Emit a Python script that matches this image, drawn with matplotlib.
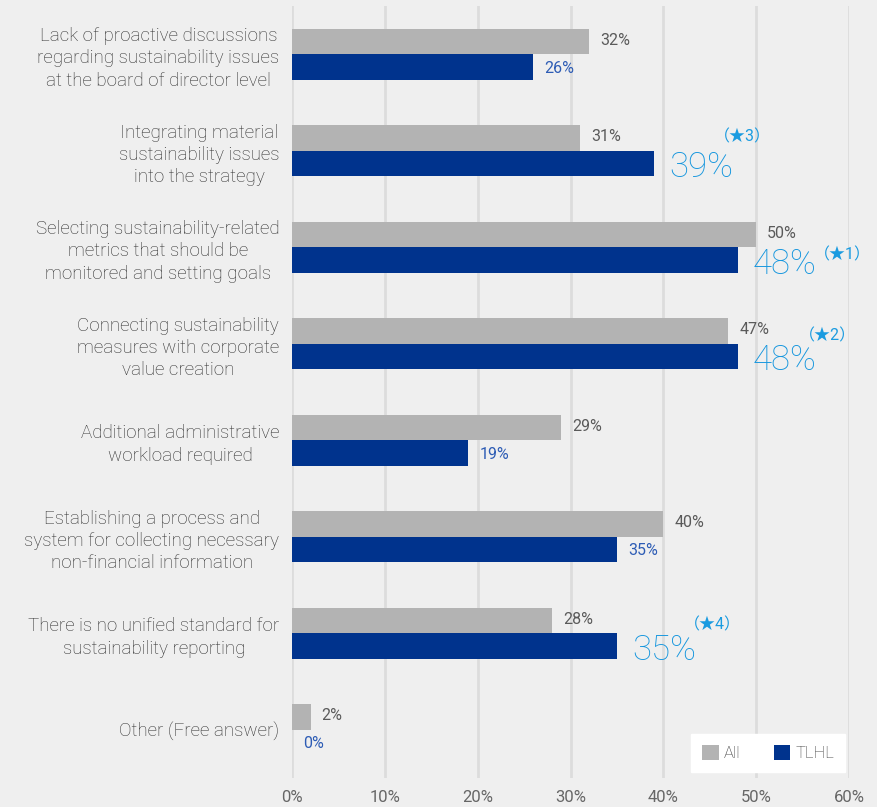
import matplotlib
matplotlib.use("Agg")
import matplotlib.pyplot as plt
import numpy as np
from matplotlib.patches import Patch

plt.rcParams['font.family'] = ['Roboto', 'Noto Sans CJK JP', 'DejaVu Sans']

categories = [
    "Lack of proactive discussions\nregarding sustainability issues\nat the board of director level",
    "Integrating material\nsustainability issues\ninto the strategy",
    "Selecting sustainability-related\nmetrics that should be\nmonitored and setting goals",
    "Connecting sustainability\nmeasures with corporate\nvalue creation",
    "Additional administrative\nworkload required",
    "Establishing a process and\nsystem for collecting necessary\nnon-financial information",
    "There is no unified standard for\nsustainability reporting",
    "Other (Free answer)",
]
all_values = [32, 31, 50, 47, 29, 40, 28, 2]
tlhl_values = [26, 39, 48, 48, 19, 35, 35, 0]
# highlighted TLHL results with their rank marks
highlight_rank = {1: "（★3）", 2: "（★1）", 3: "（★2）", 6: "（★4）"}
xticks = [0, 10, 20, 30, 40, 50, 60]

C_ALL = "#b3b3b3"
C_TLHL = "#00338d"
C_HI = "#1a9be0"
C_LBL = "#2d5cb5"
BG = "#efefef"

fig = plt.figure(figsize=(8.78, 8.07), dpi=100, facecolor=BG)
ax = fig.add_axes([292 / 878, 1 - 778 / 807, (849 - 292) / 878, (778 - 6) / 807])
ax.set_facecolor(BG)

n = len(categories)
y = np.arange(n)
h = 0.265
ax.barh(y - h / 2, all_values, height=h, color=C_ALL, zorder=3)
ax.barh(y + h / 2, tlhl_values, height=h, color=C_TLHL, zorder=3)

ax.set_xlim(0, 60)
ax.set_ylim(n - 0.5, -0.5)
ax.set_xticks(xticks)
ax.set_xticklabels([f"{v}%" for v in xticks], color="#666666", fontsize=12)
ax.set_yticks(y)
ax.set_yticklabels(categories, color="#2e2e2e", fontsize=13.5, fontweight="light",
                   linespacing=1.32, multialignment="center")
ax.tick_params(axis="both", length=0)
ax.tick_params(axis="x", pad=9)
ax.tick_params(axis="y", pad=9)
for s in ax.spines.values():
    s.set_visible(False)
ax.xaxis.grid(True, color="#dcdcdc", linewidth=2, zorder=0)
ax.set_axisbelow(True)

for i in range(n):
    ax.annotate(f"{all_values[i]}%", (all_values[i], i - h / 2), xytext=(8, 1),
                textcoords="offset points", va="center", ha="left",
                fontsize=11.5, color="#5a5a5a", annotation_clip=False)
    if i in highlight_rank:
        ax.annotate(f"{tlhl_values[i]}%", (tlhl_values[i], i + h / 2), xytext=(11, -3),
                    textcoords="offset points", va="center", ha="left",
                    fontsize=25, fontweight="light", color="#1596de",
                    annotation_clip=False)
    else:
        ax.annotate(f"{tlhl_values[i]}%", (tlhl_values[i], i + h / 2), xytext=(8, -1),
                    textcoords="offset points", va="center", ha="left",
                    fontsize=11.5, color=C_LBL, annotation_clip=False)

# rank marks next to the highlighted values
mark_offsets = {1: (43, 19), 2: (55, 4), 3: (44, 15), 6: (48, 15)}
for i, mark in highlight_rank.items():
    dx, dy = mark_offsets[i]
    ax.annotate(mark, (tlhl_values[i], i + h / 2), xytext=(dx, dy),
                textcoords="offset points", va="center", ha="left",
                fontsize=11.5, color=C_HI, annotation_clip=False)

handles = [Patch(facecolor=C_ALL, label="All"), Patch(facecolor=C_TLHL, label="TLHL")]
leg = ax.legend(handles=handles, loc="lower right", bbox_to_anchor=(1.008, -0.003),
                ncol=2, frameon=True, fancybox=False, framealpha=1,
                edgecolor="white", facecolor="white", fontsize=12,
                handlelength=1.0, handleheight=1.0, handletextpad=0.3,
                columnspacing=2.0, borderpad=0.65)
for t in leg.get_texts():
    t.set_color("#3a3a3a")
    t.set_fontweight("light")

fig.savefig("out.png", dpi=100, facecolor=BG)
